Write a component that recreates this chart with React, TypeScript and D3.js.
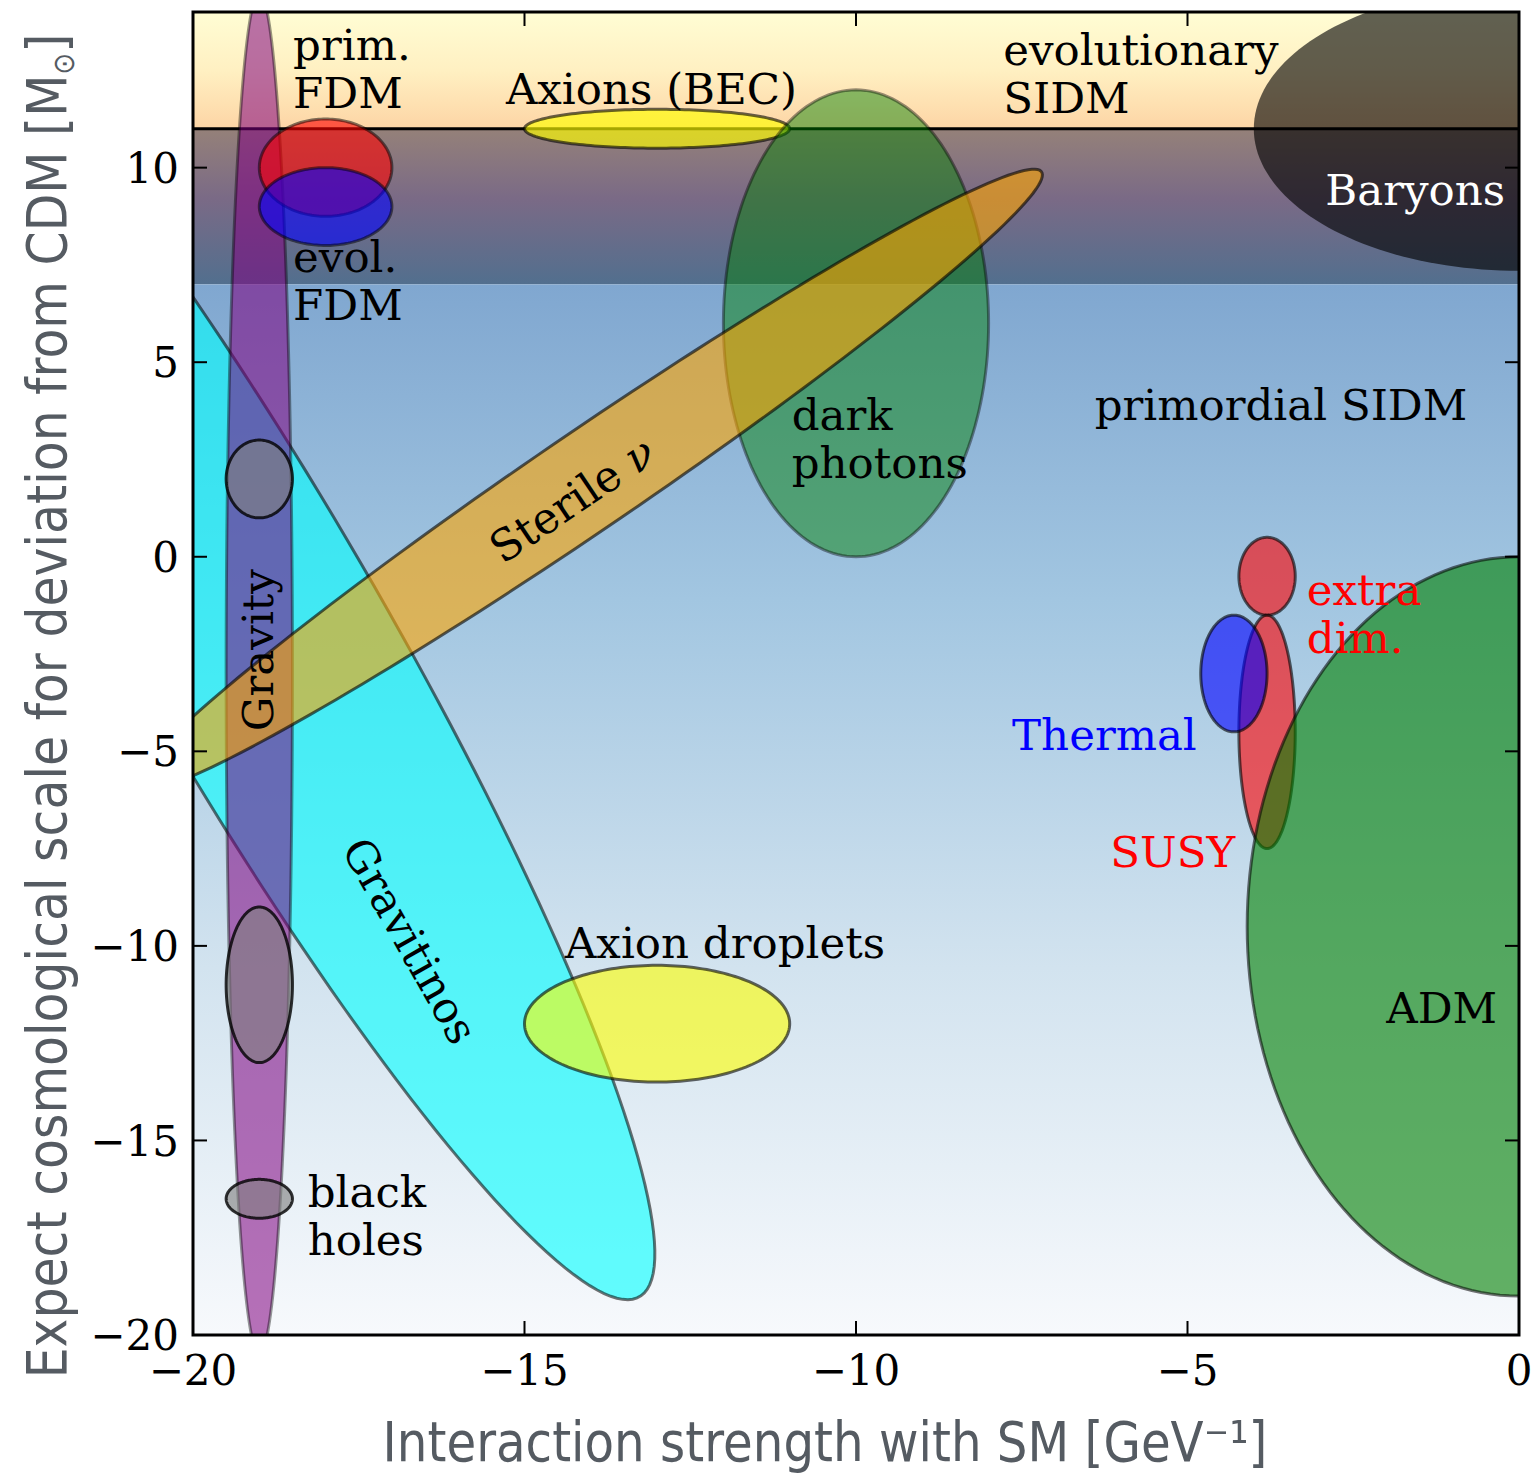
import React, { useEffect, useRef } from 'react';
import * as d3 from 'd3';

const W = 1533;
const H = 1475;
const margin = { top: 12, right: 14, bottom: 140, left: 193 };

const xTicks = [-20, -15, -10, -5, 0];
const yTicks = [-20, -15, -10, -5, 0, 5, 10];

// horizontal bands of the background (data units on the y axis)
const bandNames = ['evolutionary', 'transition', 'primordial'];
const bandLow = [11, 7, -20];
const bandHigh = [14, 11, 7];
const separatorY = 11;

// ellipses, drawn in this order: centre, full width, full height, rotation (deg, data space)
const regionNames = [
  'Gravitinos', 'Gravity', 'BH1', 'BH2', 'BH3', 'primFDM', 'evolFDM',
  'AxionsBEC', 'DarkPhotons', 'Sterile', 'AxionDroplets', 'ExtraDim',
  'SUSY', 'Thermal', 'ADM', 'Baryons',
];
const regionX = [-19.05, -19, -19, -19, -19, -18, -18, -13, -10, -14.05, -13, -3.8, -3.8, -4.3, 0, 0];
const regionY = [-2.0, -3, 2, -11, -16.5, 10, 9, 11, 6, 1.95, -12, -0.5, -4.5, -3, -9.5, 11];
const regionW = [4.17, 1, 1, 1, 1, 2, 2, 4, 4, 21, 4, 0.85, 0.85, 1, 8.2, 8];
const regionH = [36, 35, 2, 4, 1, 2.5, 2, 1, 12, 2, 3, 2, 6, 3, 19, 7.3];
const regionAngle = [18.4, 0, 0, 0, 0, 0, 0, 0, 0, 49.5, 0, 0, 0, 0, 0, 0];

const regionStyle: Record<string, { fill: string; op: number; edge: number }> = {
  Gravitinos: { fill: '#00ffff', op: 0.6, edge: 0.55 },
  Gravity: { fill: '#800080', op: 0.55, edge: 0.4 },
  BH1: { fill: '#808080', op: 0.62, edge: 0.8 },
  BH2: { fill: '#808080', op: 0.62, edge: 0.8 },
  BH3: { fill: '#808080', op: 0.62, edge: 0.8 },
  primFDM: { fill: '#ff0000', op: 0.6, edge: 0.5 },
  evolFDM: { fill: '#0000ff', op: 0.6, edge: 0.5 },
  AxionsBEC: { fill: '#ffff00', op: 0.65, edge: 0.6 },
  DarkPhotons: { fill: '#008000', op: 0.47, edge: 0.4 },
  Sterile: { fill: '#ffa500', op: 0.6, edge: 0.6 },
  AxionDroplets: { fill: '#ffff00', op: 0.6, edge: 0.6 },
  ExtraDim: { fill: '#ff0000', op: 0.6, edge: 0.6 },
  SUSY: { fill: '#ff0000', op: 0.6, edge: 0.6 },
  Thermal: { fill: '#0000ff', op: 0.6, edge: 0.6 },
  ADM: { fill: '#008000', op: 0.6, edge: 0.55 },
  Baryons: { fill: '#000000', op: 0.62, edge: 0 },
};

// annotations: text lines, anchor point in data units
const labelText = [
  ['prim.', 'FDM'], ['evol.', 'FDM'], ['Axions (BEC)'], ['evolutionary', 'SIDM'],
  ['Baryons'], ['dark', 'photons'], ['primordial SIDM'], ['extra', 'dim.'],
  ['Thermal'], ['SUSY'], ['Axion droplets'], ['ADM'], ['black', 'holes'],
];
const labelX = [-18.49, -18.49, -15.28, -7.78, -0.21, -10.97, -6.4, -3.2, -4.86, -4.28, -14.39, -0.33, -18.27];
const labelY = [12.77, 7.31, 11.63, 12.64, 9.04, 3.26, 3.52, -1.24, -4.96, -7.97, -10.3, -11.99, -16.71];
const labelColor = ['#000', '#000', '#000', '#000', '#fff', '#000', '#000', '#f00', '#00f', '#f00', '#000', '#000', '#000'];
const labelAnchor = ['start', 'start', 'start', 'start', 'end', 'start', 'start', 'start', 'end', 'end', 'start', 'end', 'start'];

// rotated labels, centred on a data point
const tiltedText = ['Gravity', 'Sterile', 'Gravitinos'];
const tiltedX = [-19.02, -14.28, -16.73];
const tiltedY = [-2.4, 1.46, -9.87];
const tiltedAngle = [-90, -34, 60.5];

export default function App() {
  const ref = useRef<SVGSVGElement>(null);

  useEffect(() => {
    const svg = d3.select(ref.current);
    svg.selectAll('*').remove();

    const x = d3.scaleLinear().domain([-20, 0]).range([margin.left, W - margin.right]);
    const y = d3.scaleLinear().domain([-20, 14]).range([H - margin.bottom, margin.top]);
    const x0 = x(-20), x1 = x(0), y0 = y(-20), y1 = y(14);

    const defs = svg.append('defs');
    defs.append('clipPath').attr('id', 'plotclip')
      .append('rect').attr('x', x0).attr('y', y1).attr('width', x1 - x0).attr('height', y0 - y1);

    const bandStops: Record<string, [number, string][]> = {
      evolutionary: [[0, '#fffdd4'], [0.5, '#fff0c2'], [1, '#fdd5a5']],
      transition: [[0, '#958179'], [0.45, '#7a6a86'], [1, '#526f8e']],
      primordial: [[0, '#80a7d0'], [0.3, '#a2c6e1'], [0.65, '#d2e3ef'], [1, '#f7f9fc']],
    };
    bandNames.forEach((name) => {
      const g = defs.append('linearGradient').attr('id', 'bg-' + name)
        .attr('x1', 0).attr('y1', 0).attr('x2', 0).attr('y2', 1);
      bandStops[name].forEach(([o, c]) => g.append('stop').attr('offset', o).attr('stop-color', c));
    });

    const plot = svg.append('g').attr('clip-path', 'url(#plotclip)');

    plot.selectAll('rect.band')
      .data(bandNames)
      .join('rect')
      .attr('class', 'band')
      .attr('x', x0)
      .attr('width', x1 - x0)
      .attr('y', (_, i) => y(bandHigh[i]))
      .attr('height', (_, i) => y(bandLow[i]) - y(bandHigh[i]))
      .attr('fill', (d) => `url(#bg-${d})`);

    plot.append('line')
      .attr('x1', x0).attr('x2', x1)
      .attr('y1', y(separatorY)).attr('y2', y(separatorY))
      .attr('stroke', '#000').attr('stroke-width', 3);

    const steps = d3.range(0, 361, 2).map((d) => (d * Math.PI) / 180);
    const line = d3.line<[number, number]>().x((d) => x(d[0])).y((d) => y(d[1])).curve(d3.curveLinearClosed);
    const ellipsePath = (i: number) => {
      const a = (regionAngle[i] * Math.PI) / 180;
      const pts: [number, number][] = steps.map((t) => {
        const u = (regionW[i] / 2) * Math.cos(t);
        const v = (regionH[i] / 2) * Math.sin(t);
        return [regionX[i] + u * Math.cos(a) - v * Math.sin(a), regionY[i] + u * Math.sin(a) + v * Math.cos(a)];
      });
      return line(pts);
    };

    plot.selectAll('path.region')
      .data(regionNames)
      .join('path')
      .attr('class', 'region')
      .attr('d', (_, i) => ellipsePath(i))
      .attr('fill', (d) => regionStyle[d].fill)
      .attr('fill-opacity', (d) => regionStyle[d].op)
      .attr('stroke', '#000')
      .attr('stroke-opacity', (d) => regionStyle[d].edge)
      .attr('stroke-width', 3);

    const serif = "'DejaVu Serif', serif";
    const fs = 43.5;

    const labels = plot.selectAll('text.label')
      .data(labelText)
      .join('text')
      .attr('class', 'label')
      .attr('font-family', serif)
      .attr('font-size', fs)
      .attr('fill', (_, i) => labelColor[i])
      .attr('text-anchor', (_, i) => labelAnchor[i]);
    labels.each(function (lines, i) {
      d3.select(this).selectAll('tspan')
        .data(lines)
        .join('tspan')
        .attr('x', x(labelX[i]))
        .attr('y', (_, j) => y(labelY[i]) + j * 48)
        .text((d) => d);
    });

    tiltedText.forEach((t, i) => {
      const txt = plot.append('text')
        .attr('font-family', serif)
        .attr('font-size', fs)
        .attr('text-anchor', 'middle')
        .attr('dominant-baseline', 'central')
        .attr('transform', `translate(${x(tiltedX[i])},${y(tiltedY[i])}) rotate(${tiltedAngle[i]})`);
      txt.append('tspan').text(t);
      if (t === 'Sterile') txt.append('tspan').attr('font-style', 'italic').text(' ν');
    });

    // frame and ticks
    const axes = svg.append('g');
    axes.append('rect')
      .attr('x', x0).attr('y', y1).attr('width', x1 - x0).attr('height', y0 - y1)
      .attr('fill', 'none').attr('stroke', '#000').attr('stroke-width', 3);

    const tl = 14;
    xTicks.forEach((t) => {
      axes.append('line').attr('x1', x(t)).attr('x2', x(t)).attr('y1', y0).attr('y2', y0 - tl)
        .attr('stroke', '#000').attr('stroke-width', 2);
      axes.append('line').attr('x1', x(t)).attr('x2', x(t)).attr('y1', y1).attr('y2', y1 + tl)
        .attr('stroke', '#000').attr('stroke-width', 2);
    });
    yTicks.forEach((t) => {
      axes.append('line').attr('x1', x0).attr('x2', x0 + tl).attr('y1', y(t)).attr('y2', y(t))
        .attr('stroke', '#000').attr('stroke-width', 2);
      axes.append('line').attr('x1', x1).attr('x2', x1 - tl).attr('y1', y(t)).attr('y2', y(t))
        .attr('stroke', '#000').attr('stroke-width', 2);
    });

    const fmt = (v: number) => (v < 0 ? '\u2212' + Math.abs(v) : String(v));
    axes.selectAll('text.xt')
      .data(xTicks)
      .join('text')
      .attr('class', 'xt')
      .attr('x', (d) => x(d))
      .attr('y', y0 + 50)
      .attr('text-anchor', 'middle')
      .attr('font-family', serif)
      .attr('font-size', 42)
      .text(fmt);
    axes.selectAll('text.yt')
      .data(yTicks)
      .join('text')
      .attr('class', 'yt')
      .attr('x', x0 - 14)
      .attr('y', (d) => y(d))
      .attr('dy', '0.36em')
      .attr('text-anchor', 'end')
      .attr('font-family', serif)
      .attr('font-size', 42)
      .text(fmt);

    // axis titles: condensed look by squeezing horizontally to the reference span
    const sans = "'DejaVu Sans', sans-serif";
    const xt = svg.append('text')
      .attr('text-anchor', 'middle')
      .attr('font-family', sans)
      .attr('font-size', 56)
      .attr('fill', '#555b62')
      .text('Interaction strength with SM [GeV\u207B\u00B9]');
    const xLen = (xt.node() as SVGTextElement).getComputedTextLength();
    xt.attr('transform', `translate(825,1461) scale(${885 / xLen},1)`);

    const yt = svg.append('text')
      .attr('text-anchor', 'middle')
      .attr('font-family', sans)
      .attr('font-size', 56)
      .attr('fill', '#555b62');
    yt.append('tspan').text('Expect cosmological scale for deviation from CDM [M');
    yt.append('tspan').attr('font-size', 30).attr('dy', 8).text('\u2299');
    yt.append('tspan').attr('dy', -8).text(']');
    const yLen = (yt.node() as SVGTextElement).getComputedTextLength();
    yt.attr('transform', `translate(66,706) rotate(-90) scale(${1345 / yLen},1)`);
  }, []);

  return (
    <svg
      ref={ref}
      width={W}
      height={H}
      style={{ position: 'absolute', left: 0, top: 0, background: '#fff' }}
    />
  );
}
